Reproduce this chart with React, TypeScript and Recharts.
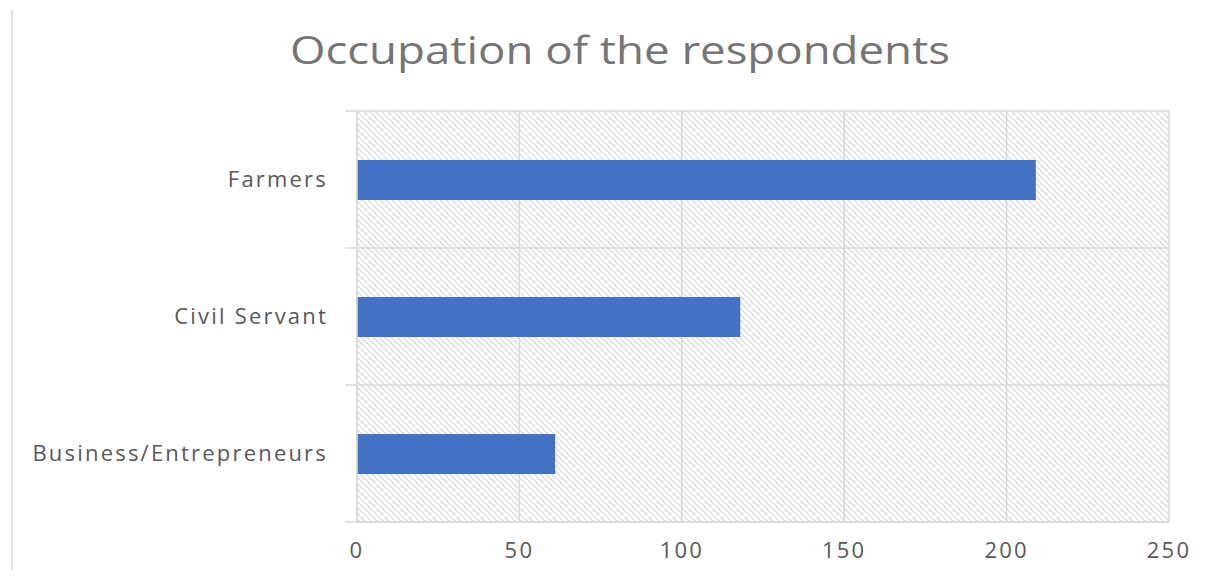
import React from 'react';
import { Bar, BarChart, CartesianGrid, XAxis, YAxis } from 'recharts';

const occupations = ['Farmers', 'Civil Servant', 'Business/Entrepreneurs'];
const respondents = [209, 118, 61];
const xTicks = [0, 50, 100, 150, 200, 250];

const data = occupations.map((name, i) => ({ name, value: respondents[i] }));

const tickStyle = { fill: '#595959', fontSize: 22, fontFamily: 'Open Sans', letterSpacing: 2.2 };

// category label plus the small outward tick marks at the band edges
const CategoryTick = (props: any) => {
  const { x, y, payload, index } = props;
  const half = payload?.offset ?? 0;
  const left = x + 29 - 12;
  const right = x + 29;
  return (
    <g>
      <text x={x} y={y} dy="0.35em" textAnchor="end" {...tickStyle}>
        {payload.value}
      </text>
      {half > 0 && <line x1={left} x2={right} y1={y - half} y2={y - half} stroke="#d9d9d9" strokeWidth={1.5} />}
      {half > 0 && index === occupations.length - 1 && (
        <line x1={left} x2={right} y1={y + half} y2={y + half} stroke="#d9d9d9" strokeWidth={1.5} />
      )}
    </g>
  );
};

const App: React.FC = () => {
  return (
    <div style={{ position: 'relative', width: 1222, height: 578, margin: -8, background: '#fff' }}>
      <svg width={0} height={0} style={{ position: 'absolute' }}>
        <defs>
          <pattern id="hatch" patternUnits="userSpaceOnUse" width={6} height={6}>
            <path d="M0,0 L6,6 M-1,5 L1,7 M5,-1 L7,1" stroke="#d4d4d4" strokeWidth={1.2} />
          </pattern>
        </defs>
      </svg>
      <div
        style={{
          position: 'absolute',
          left: 11,
          top: 10,
          width: 2,
          height: 568,
          background: '#e3e3e3',
        }}
      />
      <BarChart
        width={1222}
        height={578}
        data={data}
        layout="vertical"
        margin={{ top: 111, right: 53, left: 0, bottom: 0 }}
        barSize={40}
      >
        <text
          x={620}
          y={64}
          textAnchor="middle"
          fill="#757575"
          fontSize={38}
          fontFamily="Open Sans"
          textLength={660}
          lengthAdjust="spacingAndGlyphs"
        >
          Occupation of the respondents
        </text>
        <CartesianGrid
          fill="url(#hatch)"
          stroke="#d9d9d9"
          strokeWidth={1.5}
          horizontalCoordinatesGenerator={({ offset }: any) => {
            const step = offset.height / occupations.length;
            return occupations.map((_, i) => offset.top + step * i).concat(offset.top + offset.height);
          }}
        />
        <XAxis
          type="number"
          domain={[0, 250]}
          ticks={xTicks}
          axisLine={{ stroke: '#d9d9d9', strokeWidth: 1.5 }}
          tickLine={false}
          tickSize={0}
          tickMargin={20}
          height={56}
          tick={tickStyle}
        />
        <YAxis
          type="category"
          dataKey="name"
          width={357}
          axisLine={{ stroke: '#d9d9d9', strokeWidth: 1.5 }}
          tickLine={false}
          tickSize={0}
          tickMargin={29}
          tick={<CategoryTick />}
        />
        <Bar dataKey="value" fill="#4472C4" isAnimationActive={false} />
      </BarChart>
    </div>
  );
};

export default App;
